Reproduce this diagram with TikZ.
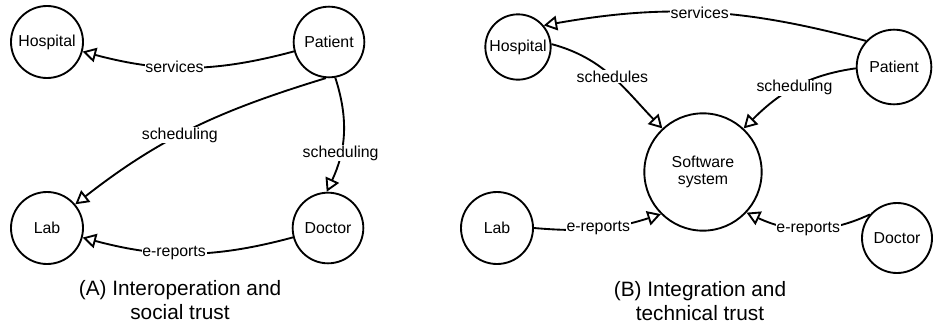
\documentclass[tikz,border=0pt]{standalone}
\usepackage{fontspec}
\setmainfont{Liberation Sans}
\usetikzlibrary{arrows.meta}

\begin{document}
\begin{tikzpicture}[x=0.75pt,y=0.75pt,line width=1.4pt,>={Triangle[open,length=10pt,width=11pt]},
  actor/.style={draw,circle,inner sep=0pt,minimum size=#1,font=\fontsize{11.9}{13}\selectfont},
  lbl/.style={fill=white,inner sep=0.6pt,font=\fontsize{11.9}{13}\selectfont},
  caption/.style={align=center,font=\fontsize{15.6}{18}\selectfont}]
  \useasboundingbox (0,0) rectangle (935,326);
  % (A) interoperation
  \node[actor=54pt] (hospA) at (47,284) {Hospital};
  \node[actor=53pt] (patA) at (329,284) {Patient};
  \node[actor=54pt] (labA) at (47,98) {Lab};
  \node[actor=53pt] (docA) at (328,98) {Doctor};
  \draw[->] (patA) to[bend left=15] node[lbl,pos=0.57] {services} (hospA);
  \draw[->] (patA.-95) to[out=197,in=38] node[lbl,pos=0.56] {scheduling} (labA.40);
  \draw[->] (patA.-80) to[out=-72,in=65] node[lbl,pos=0.66] {scheduling} (docA.92);
  \draw[->] (docA) to[bend left=15] node[lbl,pos=0.57] {e-reports} (labA);
  \node[caption] (capA) at (180,26) {(A) Interoperation and\\social trust};
  % (B) integration
  \node[actor=49pt] (hospB) at (518,279) {Hospital};
  \node[actor=56pt] (patB) at (894,259) {Patient};
  \node[actor=88pt,align=center] (soft) at (703,154) {Software\\system};
  \node[actor=54pt] (labB) at (497,98) {Lab};
  \node[actor=52.5pt] (docB) at (897,88) {Doctor};
  \draw[->] (patB.137) to[out=165,in=10] node[lbl,pos=0.52] {services} (hospB.40);
  \draw[->] (hospB.5) to[out=-15,in=134] node[lbl,pos=0.5] {schedules} (soft.133);
  \draw[->] (patB.182) to[out=188,in=45] node[lbl,pos=0.5] {scheduling} (soft.47);
  \draw[->] (labB.0) to[out=-5,in=198] node[lbl,pos=0.5] {e-reports} (soft.225);
  \draw[->] (docB.139) to[out=205,in=-25] node[lbl,pos=0.5] {e-reports} (soft.-43);
  \node[caption] (capB) at (700,25) {(B) Integration and\\technical trust};
\end{tikzpicture}
\end{document}
